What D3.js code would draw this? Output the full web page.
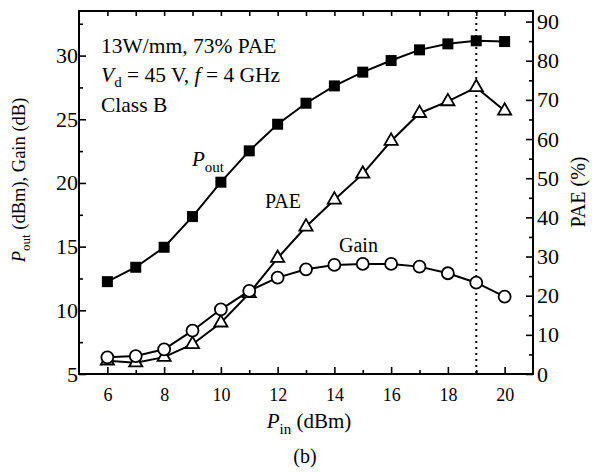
<!DOCTYPE html>
<html>
<head>
<meta charset="utf-8">
<script src="https://cdn.jsdelivr.net/npm/d3@7"></script>
<style>
body { margin: 0; background: #fff; }
text { font-family: "Liberation Serif", "Times New Roman", serif; fill: #000; }
</style>
</head>
<body>
<div id="chart"></div>
<script>
// data
var pin  = [6, 7, 8, 9, 10, 11, 12, 13, 14, 15, 16, 17, 18, 19, 20];
var pout = [12.25, 13.38, 14.95, 17.36, 20.06, 22.52, 24.61, 26.26, 27.62, 28.7, 29.61, 30.45, 30.92, 31.16, 31.1];
var gain = [6.31, 6.41, 6.94, 8.4, 10.08, 11.52, 12.57, 13.22, 13.56, 13.64, 13.64, 13.43, 12.91, 12.17, 11.07];
var pae  = [3.4, 2.9, 4.3, 7.6, 13.1, 20.6, 29.6, 37.6, 44.5, 51.1, 59.5, 66.6, 69.6, 73.2, 67.2];
var xTicks = [6, 8, 10, 12, 14, 16, 18, 20];
var yLeftTicks = [5, 10, 15, 20, 25, 30];
var yRightTicks = [0, 10, 20, 30, 40, 50, 60, 70, 80, 90];
var peakPin = 19;

var svgWidth = 592;
var svgHeight = 473;
var margin = { top: 11, right: 59, bottom: 99, left: 79 };
var width = svgWidth - margin.left - margin.right;
var height = svgHeight - margin.top - margin.bottom;

var svg = d3.select("#chart")
  .append("svg")
  .attr("width", svgWidth)
  .attr("height", svgHeight);

var chartGroup = svg.append("g")
  .attr("transform", `translate(${margin.left}, ${margin.top})`);

// scales
var x = d3.scaleLinear().domain([5, 21]).range([0, width]);
var yL = d3.scaleLinear().domain([5, 33.5]).range([height, 0]);
var yR = d3.scaleLinear().domain([0, 92.7]).range([height, 0]);

// axes, ticks pointing inward
function styleAxis(g) {
  g.select(".domain").remove();
  g.selectAll("line").attr("stroke", "#000").attr("stroke-width", 1.6);
}

// minor ticks
chartGroup.append("g")
  .attr("transform", `translate(0, ${height})`)
  .call(d3.axisBottom(x).tickValues(d3.range(7, 21, 2)).tickSize(-4).tickFormat(""))
  .call(styleAxis);
chartGroup.append("g")
  .call(d3.axisTop(x).tickValues(d3.range(6, 21, 1)).tickSize(-5).tickFormat(""))
  .call(styleAxis);
chartGroup.append("g")
  .call(d3.axisLeft(yL).tickValues(d3.range(7.5, 33, 5)).tickSize(-4).tickFormat(""))
  .call(styleAxis);
chartGroup.append("g")
  .attr("transform", `translate(${width}, 0)`)
  .call(d3.axisRight(yR).tickValues(d3.range(5, 91, 10)).tickSize(-4).tickFormat(""))
  .call(styleAxis);

// major ticks with labels
var bottomAxis = chartGroup.append("g")
  .attr("transform", `translate(0, ${height})`)
  .call(d3.axisBottom(x).tickValues(xTicks).tickSize(-7).tickPadding(14))
  .call(styleAxis);
bottomAxis.selectAll("text").attr("font-size", 18).attr("dy", "0.71em");

var leftAxis = chartGroup.append("g")
  .call(d3.axisLeft(yL).tickValues(yLeftTicks).tickSize(-7).tickPadding(1))
  .call(styleAxis);
leftAxis.selectAll("text").attr("font-size", 22);

var rightAxis = chartGroup.append("g")
  .attr("transform", `translate(${width}, 0)`)
  .call(d3.axisRight(yR).tickValues(yRightTicks).tickSize(-7).tickPadding(4))
  .call(styleAxis);
rightAxis.selectAll("text").attr("font-size", 22);

svg.selectAll("g").attr("font-family", null);

// frame
chartGroup.append("rect")
  .attr("width", width)
  .attr("height", height)
  .attr("fill", "none")
  .attr("stroke", "#000")
  .attr("stroke-width", 2);

// dotted line at peak PAE
chartGroup.append("line")
  .attr("x1", x(peakPin)).attr("x2", x(peakPin))
  .attr("y1", 0).attr("y2", height)
  .attr("stroke", "#000")
  .attr("stroke-width", 2)
  .attr("stroke-dasharray", "2,4");

// lines
function drawLine(values, scale) {
  var line = d3.line()
    .x((d, i) => x(pin[i]))
    .y(d => scale(d));
  chartGroup.append("path")
    .datum(values)
    .attr("d", line)
    .attr("fill", "none")
    .attr("stroke", "#000")
    .attr("stroke-width", 2);
}
drawLine(pout, yL);
drawLine(pae, yR);
drawLine(gain, yL);

// markers
chartGroup.selectAll(".sq").data(pout).enter()
  .append("rect")
  .attr("x", (d, i) => x(pin[i]) - 5.5)
  .attr("y", d => yL(d) - 5.5)
  .attr("width", 11)
  .attr("height", 11)
  .attr("fill", "#000");

var tri = d3.symbol().type(d3.symbolTriangle).size(75);
chartGroup.selectAll(".tri").data(pae).enter()
  .append("path")
  .attr("d", tri)
  .attr("transform", (d, i) => `translate(${x(pin[i])}, ${yR(d)})`)
  .attr("fill", "#fff")
  .attr("stroke", "#000")
  .attr("stroke-width", 1.8);

chartGroup.selectAll(".circ").data(gain).enter()
  .append("circle")
  .attr("cx", (d, i) => x(pin[i]))
  .attr("cy", d => yL(d))
  .attr("r", 6)
  .attr("fill", "#fff")
  .attr("stroke", "#000")
  .attr("stroke-width", 1.8);

// annotations
var note = svg.append("g").attr("font-size", 21.5);
note.append("text").attr("x", 101).attr("y", 53).text("13W/mm, 73% PAE");
var l2 = note.append("text").attr("x", 101).attr("y", 82);
l2.append("tspan").attr("font-style", "italic").text("V");
l2.append("tspan").attr("font-size", 15).attr("dy", 5).text("d");
l2.append("tspan").attr("dy", -5).text(" = 45 V, ");
l2.append("tspan").attr("font-style", "italic").text("f");
l2.append("tspan").text(" = 4 GHz");
note.append("text").attr("x", 101).attr("y", 112).text("Class B");

var poutLabel = svg.append("text").attr("x", 192).attr("y", 166).attr("font-size", 21);
poutLabel.append("tspan").attr("font-style", "italic").text("P");
poutLabel.append("tspan").attr("font-size", 15).attr("dy", 6).text("out");

svg.append("text").attr("x", 265).attr("y", 208).attr("font-size", 20).text("PAE");
svg.append("text").attr("x", 339).attr("y", 252).attr("font-size", 20).text("Gain");

// axis titles
var xTitle = svg.append("text")
  .attr("x", 309).attr("y", 428)
  .attr("text-anchor", "middle")
  .attr("font-size", 21);
xTitle.append("tspan").attr("font-style", "italic").text("P");
xTitle.append("tspan").attr("font-size", 15).attr("dy", 6).text("in");
xTitle.append("tspan").attr("dy", -6).text(" (dBm)");

var yTitle = svg.append("text")
  .attr("transform", "translate(25, 180) rotate(-90)")
  .attr("text-anchor", "middle")
  .attr("font-size", 18.5);
yTitle.append("tspan").attr("font-style", "italic").text("P");
yTitle.append("tspan").attr("font-size", 13).attr("dy", 5).text("out");
yTitle.append("tspan").attr("dy", -5).text(" (dBm), Gain (dB)");

svg.append("text")
  .attr("transform", "translate(585, 192) rotate(-90)")
  .attr("text-anchor", "middle")
  .attr("font-size", 20)
  .text("PAE (%)");

svg.append("text")
  .attr("x", 305).attr("y", 463)
  .attr("text-anchor", "middle")
  .attr("font-size", 20)
  .text("(b)");
</script>
</body>
</html>
